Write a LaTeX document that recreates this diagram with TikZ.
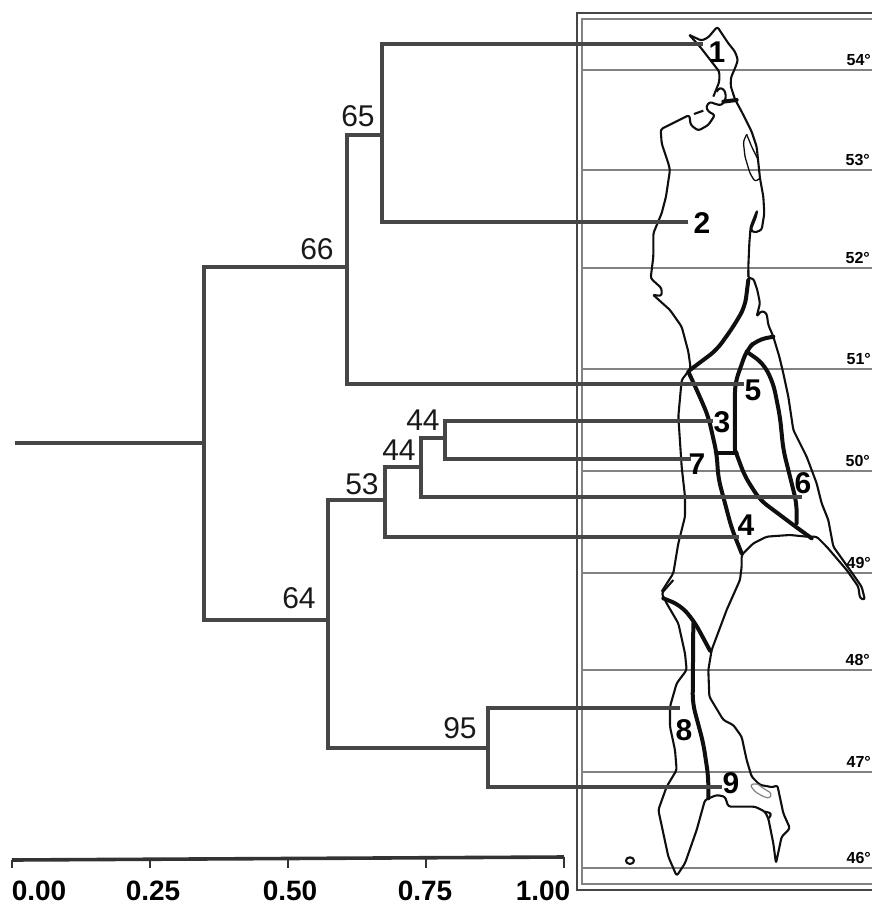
\documentclass[tikz,border=0pt]{standalone}
\usepackage{fontspec}
\setmainfont{Liberation Sans}
\usepackage{xcolor}
\definecolor{branchgray}{RGB}{70,70,70}
\definecolor{latgray}{RGB}{130,130,130}
\definecolor{coastblack}{RGB}{15,15,15}
\begin{document}
\begin{tikzpicture}[x=1pt,y=-1pt,
  branch/.style={draw=branchgray,line width=3.2pt},
  lat/.style={draw=latgray,line width=1.4pt},
  coast/.style={draw=coastblack,line width=2.1pt,line join=round,rounded corners=2.5pt},
  region/.style={draw=coastblack,line width=4pt,line join=round,line cap=round,rounded corners=9pt},
  boot/.style={font=\fontsize{30}{30}\selectfont,inner sep=0pt,text=black!90},
  areanum/.style={font=\fontsize{30}{30}\selectfont\bfseries,inner sep=0pt},
  latnum/.style={font=\fontsize{16}{16}\selectfont\bfseries,inner sep=0pt,anchor=east},
  scalenum/.style={font=\fontsize{28}{28}\selectfont\bfseries,inner sep=0pt,anchor=base},
]
\useasboundingbox (0,0) rectangle (872,906);
% ---- Map frame and latitudes ----
\draw[draw=branchgray,line width=2pt] (872,13) -- (577,13) -- (577,890) -- (872,890);
\draw[draw=latgray,line width=1.4pt] (872,19) -- (582,19) -- (582,884) -- (872,884);
\foreach \y/\t/\x in {70/54/871,170/53/870,268/52/870,369/51/871,471/50/870,573/49/871,670/48/870,772/47/871,868/46/871}{
  \coordinate (latL\t) at (582,\y);
  \coordinate (latR\t) at (872,\y);
  \draw[lat] (latL\t) -- (latR\t);
  \node[latnum] (lab\t) at (\x,\y-10) {\t°};
}
% ---- Coast, northern part ----
\begin{scope}[shift={(620,0)},x=0.3333pt,y=-0.3333pt]
\draw[coast] (208,105) -- (245,122) -- (265,112) -- (292,80) -- (305,100) -- (325,130) -- (345,155)
  -- (354,180) -- (345,205) -- (333,232) -- (332,258) -- (345,298) -- (365,335) -- (395,395)
  -- (410,440) -- (420,535) -- (430,590) -- (433,640) -- (425,690) -- (403,698) -- (392,690)
  -- (408,650) -- (412,630) -- (392,680) -- (388,730) -- (385,800) -- (385,830);
\draw[coast] (208,105) -- (240,140) -- (298,215) -- (298,245) -- (280,290);
\draw[coast] (290,275) -- (300,262) -- (315,272) -- (318,295) -- (305,316) -- (285,312) -- (270,305)
  -- (258,320) -- (265,335) -- (285,345) -- (265,375) -- (235,392) -- (212,375) -- (208,345)
  -- (122,388) -- (125,430) -- (145,490) -- (150,510) -- (138,590) -- (125,640) -- (100,700)
  -- (100,770) -- (92,835) -- (125,865) -- (125,888) -- (100,885);
\draw[coast] (222,342) -- (250,332);
\draw[coast,line width=1.3pt] (380,403) -- (370,425) -- (375,470) -- (390,520) -- (405,545) -- (420,535);
\draw[coast,line width=1.3pt] (380,403) -- (395,440) -- (415,480);
\draw[region] (310,305) -- (350,300);
\end{scope}
% ---- Coast, middle part ----
\begin{scope}[shift={(620,270)},x=0.3333pt,y=-0.3333pt]
\draw[coast] (385,0) -- (385,25) -- (400,25) -- (412,60) -- (420,100) -- (410,140) -- (425,122)
  -- (440,130) -- (445,165) -- (460,200) -- (478,260) -- (490,310) -- (505,380) -- (520,480)
  -- (560,560) -- (590,640) -- (605,700) -- (625,750) -- (640,830) -- (690,900) -- (725,950)
  -- (735,990) -- (720,985) -- (715,950) -- (680,900) -- (620,830) -- (590,800) -- (560,800)
  -- (510,795) -- (440,800) -- (400,820) -- (365,855) -- (365,890) -- (360,930) -- (320,1020);
\draw[coast] (100,75) -- (150,120) -- (185,170) -- (205,245) -- (212,295) -- (185,330) -- (175,440)
  -- (185,590) -- (195,680) -- (195,740) -- (175,820) -- (160,910) -- (125,965);
\draw[region] (385,30) -- (375,110) -- (340,170) -- (290,240) -- (210,300);
\draw[region] (205,305) -- (235,370) -- (265,440) -- (290,550) -- (295,625) -- (335,775) -- (365,850);
\draw[region] (345,540) -- (345,340) -- (380,240) -- (410,210) -- (460,200);
\draw[region] (380,245) -- (430,280) -- (460,340) -- (480,440) -- (490,540) -- (510,620) -- (530,700) -- (530,760);
\draw[region] (345,540) -- (375,620) -- (420,690) -- (520,765) -- (575,805);
\draw[region] (295,550) -- (350,550);
\end{scope}
% ---- Coast, southern part ----
\begin{scope}[shift={(570,580)},x=0.3333pt,y=-0.3333pt]
\draw[coast] (470,90) -- (425,210) -- (415,270) -- (418,350) -- (460,420) -- (490,435) -- (515,470)
  -- (530,540) -- (545,590) -- (570,615) -- (610,622) -- (622,615) -- (640,700) -- (660,745)
  -- (635,770) -- (618,850) -- (610,790) -- (595,715) -- (585,695) -- (555,680) -- (475,680)
  -- (465,650) -- (440,645) -- (405,660) -- (380,750) -- (345,850) -- (320,888) -- (295,830)
  -- (265,690) -- (290,620) -- (320,570) -- (315,510) -- (300,440) -- (300,380) -- (320,310)
  -- (350,270) -- (345,220) -- (325,130) -- (290,70) -- (275,40) -- (310,0);
\draw[region] (280,55) -- (330,75) -- (370,120) -- (395,165) -- (420,212);
\draw[region] (370,130) -- (368,370) -- (400,490) -- (415,590) -- (415,655);
\draw[coast,line width=1.2pt,draw=latgray] (540,615) -- (560,610) -- (580,625) -- (605,640) -- (600,655)
  -- (580,650) -- (555,635) -- cycle;
\draw[coast] (585,695) -- (605,700) -- (597,715);
\draw[coast] (180,842) ellipse (12 and 10);
\end{scope}
% ---- Tree ----
\coordinate (root) at (15,443);
\coordinate (j0) at (204,443);
\coordinate (j66) at (347,267);
\coordinate (j65) at (382,135);
\coordinate (j64) at (328,620);
\coordinate (j53) at (385,500);
\coordinate (j44a) at (421,467);
\coordinate (j44b) at (445,438);
\coordinate (j95) at (488,748);
\foreach \i/\x/\y in {1/703/44,2/688/222,3/713/421,4/739/537,5/744/384,6/802/497,7/691/459,8/680/708,9/722/787}{
  \coordinate (t\i) at (\x,\y);
}
\draw[branch] (root) -- (j0);
\foreach \a/\b in {j0/j66,j0/j64,j66/j65,j66/t5,j65/t1,j65/t2,j64/j53,j64/j95,j53/j44a,j53/t4,j44a/j44b,j44a/t6,j44b/t3,j44b/t7,j95/t8,j95/t9}{
  \draw[branch] (\a) |- (\b);
}
\foreach \n/\x/\y/\t in {a/358/116/65,b/317/249/66,c/423/420/44,d/399/450/44,e/362/484/53,f/299/598/64,g/460/728/95}{
  \node[boot] (boot\n) at (\x,\y) {\t};
}
% ---- Area numbers ----
\foreach \i/\x/\y in {1/717/52,2/702/223,3/722/422,4/746/525,5/753/390,6/803/483,7/697/464,8/684/730,9/731/783}{
  \node[areanum] (area\i) at (\x,\y) {\i};
}
% ---- Scale ----
\coordinate (barL) at (12,860);
\coordinate (barR) at (564,857);
\draw[branch,draw=black!80,line width=3.6pt] (barL) -- (barR);
\foreach \i/\x/\y/\c/\t in {a/12/860/39/0.00,b/150/859/153/0.25,c/288/859/290/0.50,d/426/858/425/0.75,e/564/857/543/1.00}{
  \coordinate (tickT\i) at (\x,\y);
  \coordinate (tickB\i) at (\x,868);
  \draw[draw=black!80,line width=1.4pt] (tickT\i) -- (tickB\i);
  \node[scalenum] (scale\i) at (\c,900) {\t};
}
\end{tikzpicture}
\end{document}
